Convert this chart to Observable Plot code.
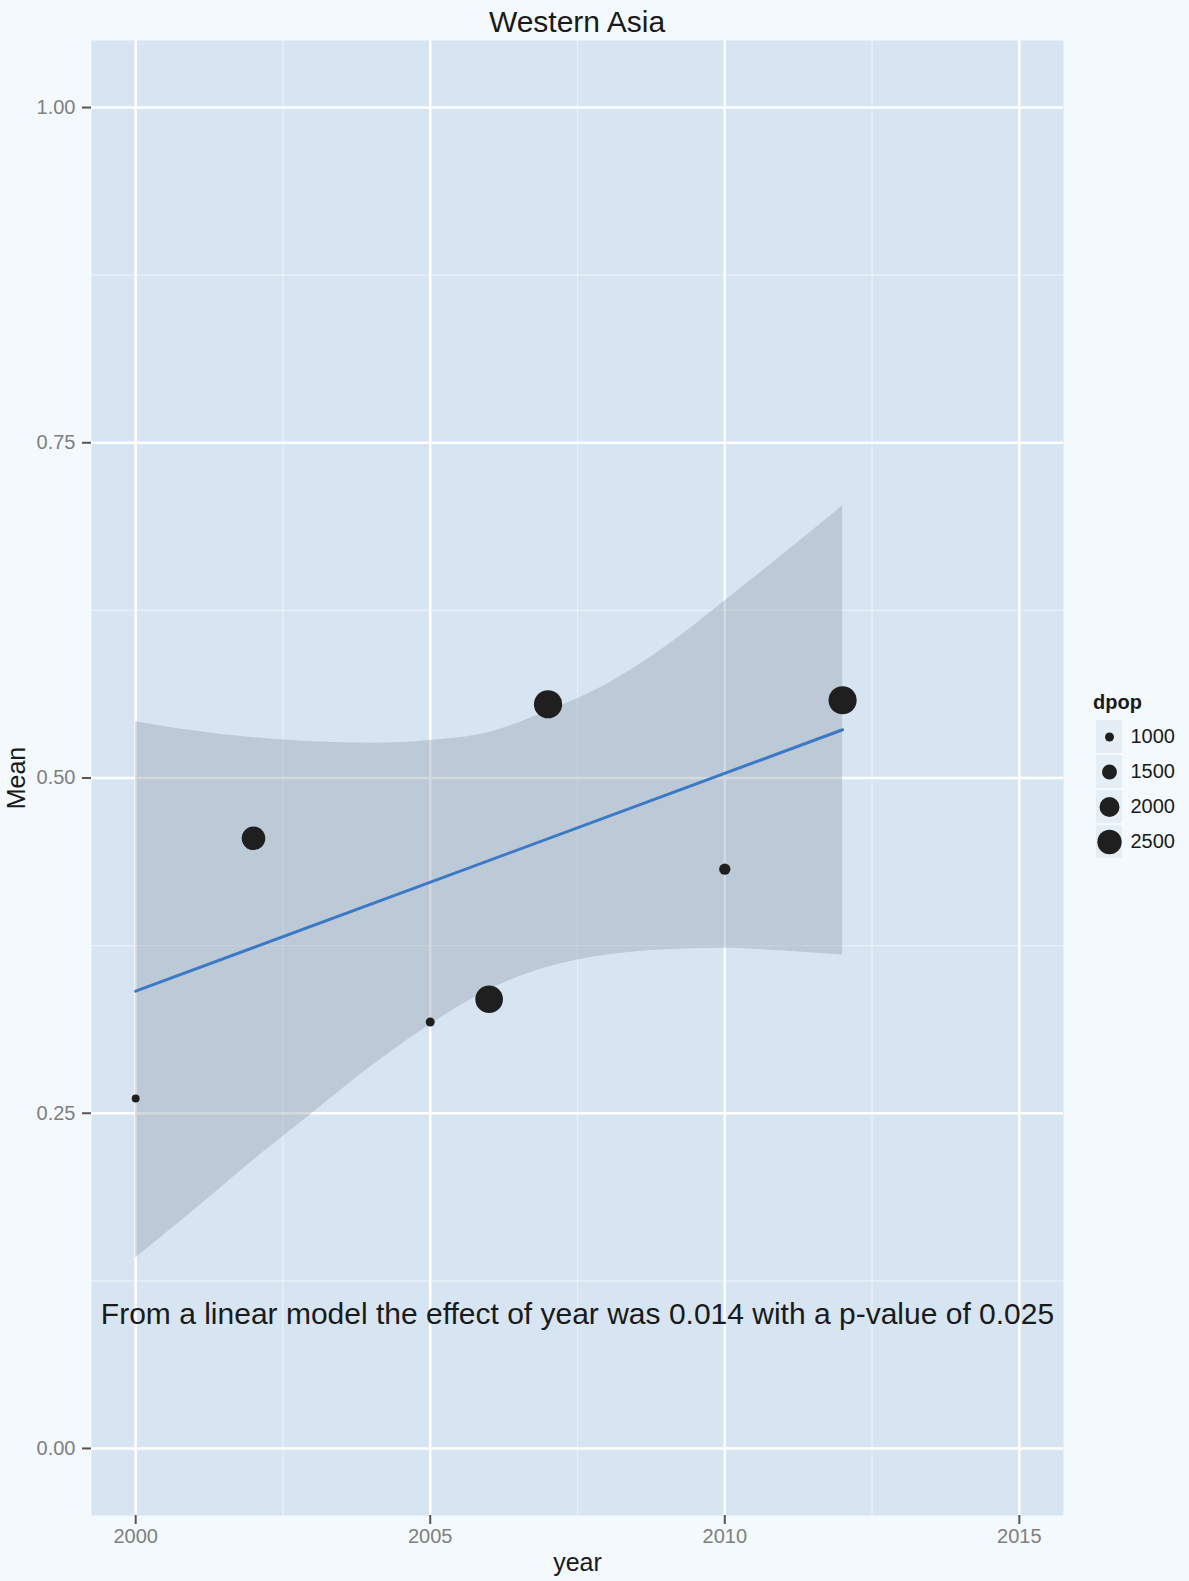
<!DOCTYPE html>
<html><head><meta charset="utf-8">
<script src="https://cdn.jsdelivr.net/npm/d3@7"></script>
<script src="https://cdn.jsdelivr.net/npm/@observablehq/plot@0.6"></script>
<style>
html,body{margin:0;padding:0;background:#f3f9fc;}
#wrap{position:relative;width:1189px;height:1581px;font-family:"Liberation Sans",Arial,sans-serif;overflow:hidden;}
#title{position:absolute;left:91px;width:972px;top:7px;text-align:center;font-size:30px;line-height:30px;color:#1a1a1a;}
#chart{position:absolute;left:0;top:40px;}
#legtitle{position:absolute;left:1093px;top:692px;font-size:20px;font-weight:bold;line-height:20px;color:#1a1a1a;}
#legend{position:absolute;left:1091px;top:718px;}
</style></head><body>
<div id="wrap">
  <div id="title">Western Asia</div>
  <div id="chart"></div>
  <div id="legtitle">dpop</div>
  <div id="legend"></div>
</div>
<script>
// Observed points
const years = [2000, 2002, 2005, 2006, 2007, 2010, 2012];
const means = [0.261, 0.455, 0.318, 0.335, 0.555, 0.432, 0.558];
const dpop  = [920, 2400, 1000, 2900, 2980, 1180, 2960];

// Fitted linear model line
const fitYears = [2000, 2012];
const fitMeans = [0.341, 0.536];

// Confidence band
const bandYears = [2000, 2001, 2002, 2003, 2004, 2005, 2006, 2007, 2008, 2009, 2010, 2011, 2012];
const bandLower = [0.142, 0.178, 0.215, 0.250, 0.285, 0.316, 0.342, 0.359, 0.368, 0.372, 0.373, 0.371, 0.368];
const bandUpper = [0.542, 0.535, 0.530, 0.527, 0.526, 0.528, 0.534, 0.550, 0.570, 0.598, 0.632, 0.667, 0.703];

// Ticks
const xTicks = [2000, 2005, 2010, 2015];
const xMinor = [2002.5, 2007.5, 2012.5];
const yTicks = [0, 0.25, 0.5, 0.75, 1];
const yMinor = [0.125, 0.375, 0.625, 0.875];
const legendBreaks = [1000, 1500, 2000, 2500];

// Annotation
const annotation = [{year: 2007.5, mean: 0.1, label: "From a linear model the effect of year was 0.014 with a p-value of 0.025"}];

const points = years.map((y, i) => ({year: y, mean: means[i], dpop: dpop[i]}));
const fit = fitYears.map((y, i) => ({year: y, mean: fitMeans[i]}));
const band = bandYears.map((y, i) => ({year: y, lower: bandLower[i], upper: bandUpper[i]}));

const rScale = {type: "sqrt", domain: [1000, 2500], range: [4.5, 12.2]};
const font = "'Liberation Sans', Arial, sans-serif";

const chart = Plot.plot({
  width: 1189,
  height: 1541,
  marginLeft: 91,
  marginRight: 126,
  marginTop: 0,
  marginBottom: 66,
  style: {fontFamily: font, background: "transparent", overflow: "visible"},
  x: {domain: [1999.25, 2015.75]},
  y: {domain: [-0.05, 1.05]},
  r: rScale,
  marks: [
    Plot.frame({fill: "#d7e5f2", stroke: null}),
    Plot.gridX(xMinor, {stroke: "white", strokeOpacity: 0.45, strokeWidth: 1.3}),
    Plot.gridY(yMinor, {stroke: "white", strokeOpacity: 0.45, strokeWidth: 1.3}),
    Plot.gridX(xTicks, {stroke: "white", strokeOpacity: 1, strokeWidth: 2.5}),
    Plot.gridY(yTicks, {stroke: "white", strokeOpacity: 1, strokeWidth: 2.5}),
    Plot.areaY(band, {x: "year", y1: "lower", y2: "upper", fill: "#949fae", fillOpacity: 0.4, curve: "monotone-x"}),
    Plot.line(fit, {x: "year", y: "mean", stroke: "#3b78c6", strokeWidth: 3}),
    Plot.dot(points, {x: "year", y: "mean", r: "dpop", fill: "#1f1f1f", stroke: "none"}),
    Plot.text(annotation, {x: "year", y: "mean", text: "label", fontSize: 30, fill: "#1a1a1a"}),
    Plot.axisX(xTicks, {tickSize: 9, tickPadding: 4, fontSize: 20, fill: "#7f7f7f", stroke: "#555", strokeWidth: 2, tickFormat: d => String(d), label: null}),
    Plot.axisX([], {label: "year", labelAnchor: "center", labelArrow: "none", labelOffset: 55, fontSize: 25, fill: "#1a1a1a", tickSize: 0}),
    Plot.axisY(yTicks, {tickSize: 9, tickPadding: 7, fontSize: 20, fill: "#7f7f7f", stroke: "#555", strokeWidth: 2, tickFormat: d3.format(".2f"), label: null}),
    Plot.axisY([], {label: "Mean", labelAnchor: "center", labelArrow: "none", labelOffset: 84, fontSize: 25, fill: "#1a1a1a", tickSize: 0})
  ]
});
document.getElementById("chart").appendChild(chart);

const legend = Plot.plot({
  width: 96,
  height: 142,
  margin: 0,
  style: {fontFamily: font, background: "transparent", overflow: "visible"},
  axis: null,
  x: {type: "band", domain: ["key"], range: [5, 31], padding: 0},
  y: {type: "band", domain: legendBreaks, range: [0, 142], padding: 0},
  r: rScale,
  marks: [
    Plot.cell(legendBreaks, {x: () => "key", y: d => d, fill: "#e6eef5", insetTop: 1, insetBottom: 1}),
    Plot.dot(legendBreaks, {x: () => "key", y: d => d, r: d => d, fill: "#1f1f1f", stroke: "none"}),
    Plot.text(legendBreaks, {x: () => "key", y: d => d, text: d => String(d), dx: 21, textAnchor: "start", fontSize: 20, fill: "#1a1a1a"})
  ]
});
document.getElementById("legend").appendChild(legend);
</script>
</body></html>
